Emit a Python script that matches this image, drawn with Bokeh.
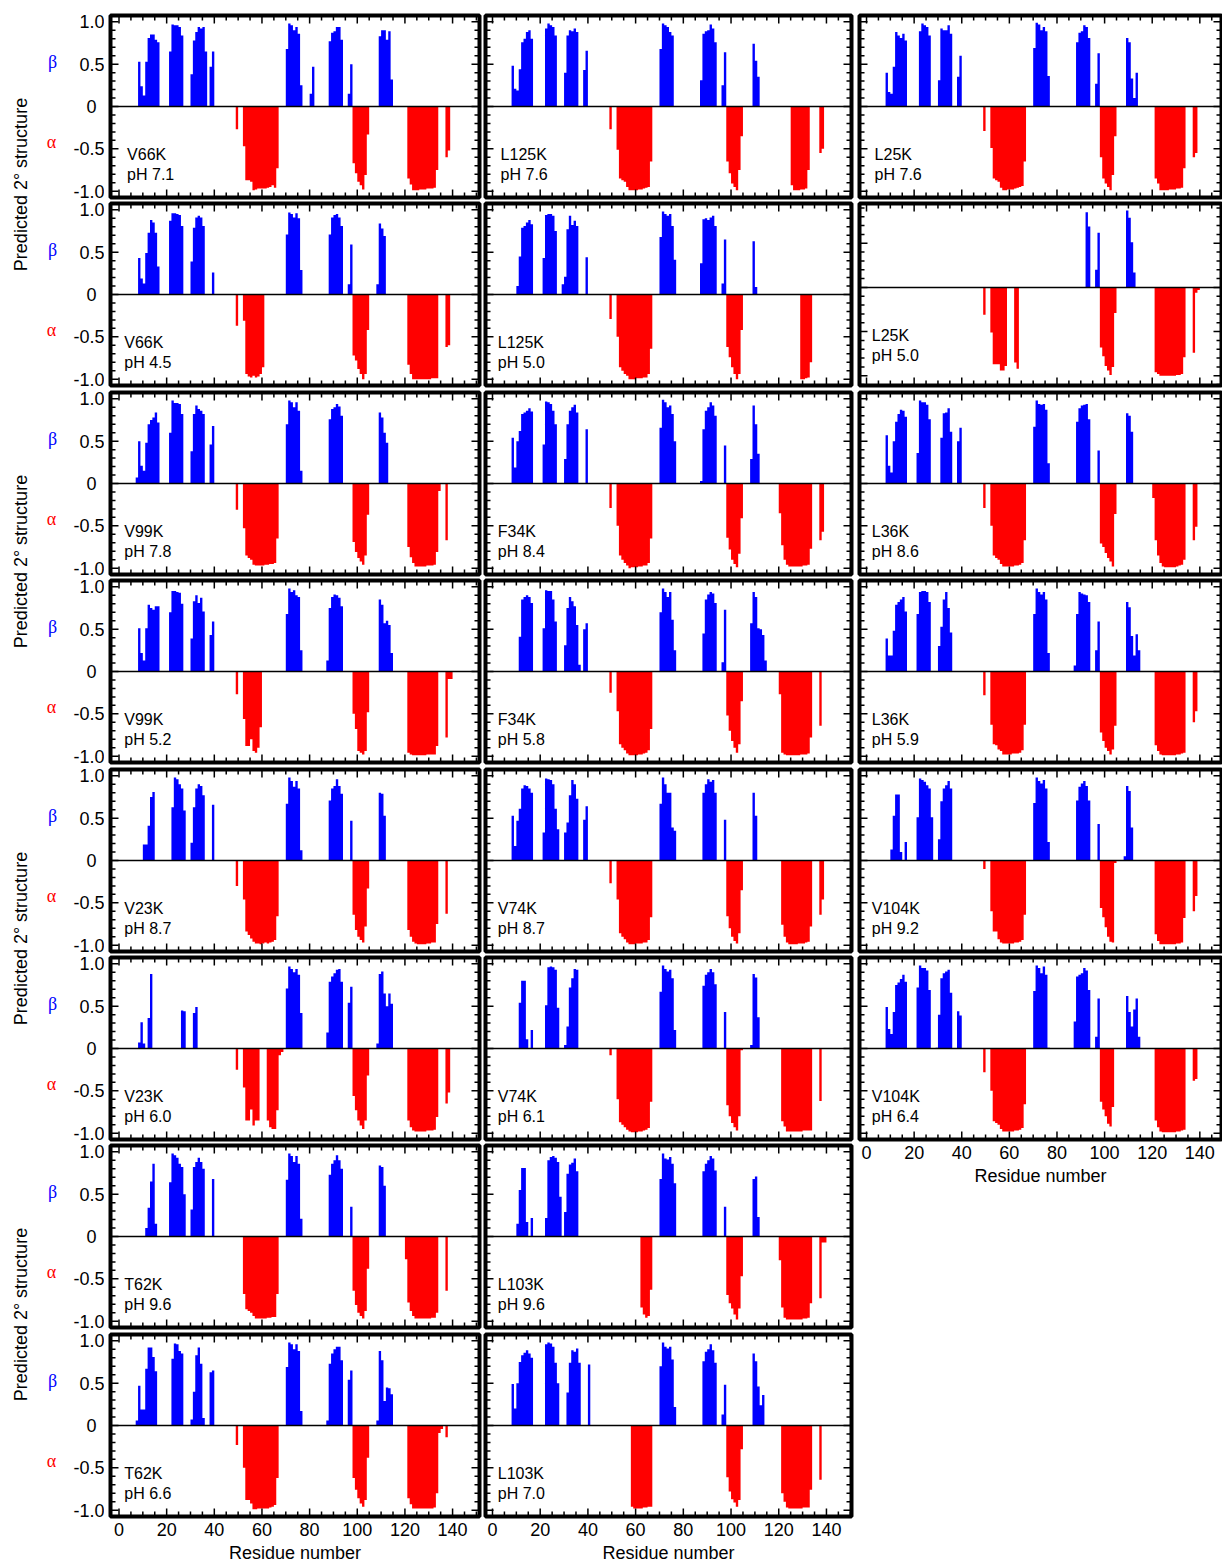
import numpy as np
from bokeh.plotting import figure
from bokeh.layouts import row, column
from bokeh.models import Range1d, FixedTicker, Span
from bokeh.core.properties import value
from bokeh.embed import file_html
from bokeh.resources import INLINE

# ---------------------------------------------------------------------------
# Predicted secondary structure per residue (beta > 0, alpha drawn below 0).
# Each entry: (first residue, [scores for consecutive residues]).
# ---------------------------------------------------------------------------
V66K_71_BETA = [(8, [0.53, 0.24, 0.13, 0.53, 0.81, 0.85, 0.85, 0.79, 0.76]), (21, [0.65, 0.97, 0.96, 0.96, 0.94, 0.84]),
                (30, [0.38, 0.78, 0.88, 0.94, 0.92, 0.94, 0.65]), (38, [0.47, 0.65]), (70, [0.68, 0.98, 0.96, 0.90, 0.94, 0.86, 0.25]),
                (80, [0.15, 0.47]), (88, [0.77, 0.87, 0.89, 0.94, 0.94, 0.79]), (96, [0.15, 0.50]), (109, [0.83, 0.90, 0.90, 0.79, 0.89, 0.32])]
V66K_71_ALPHA = [(49, [0.27]), (52, [0.47, 0.87, 0.87, 0.89, 0.99, 0.98, 0.97, 0.97, 0.97, 0.97, 0.96, 0.95, 0.93, 0.96, 0.73]),
                 (98, [0.67, 0.79, 0.89, 0.93, 0.98, 0.81, 0.33]), (121, [0.85, 0.92, 0.99, 0.99, 0.99, 0.98, 0.98, 0.98, 0.97, 0.97, 0.97, 0.96, 0.75]),
                 (137, [0.60, 0.52])]

V66K_45_BETA = [(8, [0.43, 0.19, 0.13, 0.49, 0.73, 0.88, 0.85, 0.73, 0.33]), (21, [0.87, 0.96, 0.96, 0.95, 0.94, 0.81]),
                (30, [0.39, 0.79, 0.91, 0.93, 0.91, 0.81]), (39, [0.26]), (70, [0.71, 0.97, 0.95, 0.91, 0.96, 0.90, 0.29]),
                (88, [0.71, 0.91, 0.94, 0.95, 0.91, 0.81]), (96, [0.12, 0.59]), (108, [0.12, 0.84, 0.78, 0.69])]
V66K_45_ALPHA = [(49, [0.37]), (52, [0.31, 0.94, 0.97, 0.98, 0.96, 0.98, 0.97, 0.94, 0.86]), (98, [0.72, 0.78, 0.88, 0.94, 1.0, 0.94, 0.42]),
                 (121, [0.83, 0.94, 1.0, 1.0, 1.0, 1.0, 1.0, 1.0, 1.0, 1.0, 0.99, 0.99, 0.99]), (137, [0.62, 0.60])]

V99K_78_BETA = [(7, [0.07, 0.50, 0.21, 0.15, 0.48, 0.70, 0.75, 0.78, 0.84, 0.72]), (21, [0.60, 0.98, 0.95, 0.95, 0.94, 0.82]),
                (30, [0.38, 0.82, 0.92, 0.88, 0.86, 0.82]), (38, [0.46, 0.68]), (70, [0.70, 0.98, 0.96, 0.90, 0.96, 0.86, 0.15]),
                (88, [0.76, 0.88, 0.90, 0.94, 0.91, 0.80]), (109, [0.84, 0.78, 0.60, 0.48])]
V99K_78_ALPHA = [(49, [0.31]), (52, [0.53, 0.85, 0.88, 0.90, 0.96, 0.97, 0.97, 0.97, 0.97, 0.96, 0.96, 0.95, 0.95, 0.94, 0.65]),
                 (98, [0.69, 0.81, 0.88, 0.92, 0.96, 0.85, 0.37]), (121, [0.75, 0.87, 0.94, 0.98, 0.98, 0.98, 0.98, 0.98, 0.97, 0.97, 0.97, 0.96, 0.81, 0.09]),
                 (137, [0.67])]

V99K_52_BETA = [(8, [0.51, 0.22, 0.13, 0.51, 0.79, 0.75, 0.73, 0.77, 0.77]), (21, [0.70, 0.95, 0.95, 0.94, 0.93, 0.80]),
                (30, [0.39, 0.83, 0.90, 0.81, 0.87, 0.71]), (38, [0.43, 0.59]), (70, [0.68, 0.98, 0.94, 0.96, 0.90, 0.88, 0.25]),
                (87, [0.13, 0.75, 0.88, 0.91, 0.90, 0.87, 0.77]), (109, [0.85, 0.79, 0.57, 0.60, 0.55, 0.22])]
V99K_52_ALPHA = [(49, [0.27]), (52, [0.56, 0.88, 0.88, 0.80, 0.94, 0.96, 0.90, 0.66]), (98, [0.50, 0.68, 0.94, 0.96, 0.98, 0.94, 0.48]),
                 (121, [0.96, 0.98, 0.99, 0.99, 0.99, 0.99, 0.99, 0.99, 0.98, 0.98, 0.98, 0.98, 0.88]), (137, [0.78, 0.09, 0.09])]

V23K_87_BETA = [(10, [0.19, 0.19, 0.41, 0.75, 0.81]), (22, [0.63, 0.98, 0.96, 0.90, 0.85, 0.59]), (30, [0.21, 0.63, 0.85, 0.90, 0.88, 0.77]),
                (39, [0.66]), (70, [0.67, 0.98, 0.94, 0.87, 0.94, 0.85, 0.12]), (88, [0.71, 0.85, 0.88, 0.96, 0.88, 0.79]), (97, [0.47]),
                (109, [0.80, 0.79, 0.53])]
V23K_87_ALPHA = [(49, [0.30]), (52, [0.46, 0.84, 0.88, 0.92, 0.96, 0.98, 0.98, 0.99, 0.98, 0.97, 0.98, 0.97, 0.96, 0.94, 0.66]),
                 (98, [0.64, 0.82, 0.90, 0.94, 0.97, 0.78, 0.33]), (121, [0.82, 0.90, 0.96, 0.98, 0.99, 0.99, 0.99, 0.99, 0.98, 0.98, 0.97, 0.97, 0.75]),
                 (137, [0.63])]

V23K_60_BETA = [(8, [0.07, 0.31, 0.06]), (12, [0.36, 0.88]), (26, [0.45, 0.44]), (31, [0.42, 0.49]),
                (70, [0.71, 0.97, 0.94, 0.90, 0.94, 0.87, 0.42]), (87, [0.19, 0.79, 0.85, 0.89, 0.93, 0.94, 0.79]), (96, [0.54, 0.73]),
                (108, [0.06, 0.88, 0.91, 0.65, 0.50, 0.65, 0.53])]
V23K_60_ALPHA = [(49, [0.25]), (52, [0.46, 0.85, 0.85, 0.72, 0.91, 0.85, 0.85]), (62, [0.85, 0.93, 0.95, 0.95, 0.73, 0.08, 0.04]),
                 (98, [0.56, 0.73, 0.85, 0.91, 0.95, 0.85, 0.32]), (121, [0.85, 0.93, 0.97, 0.98, 0.98, 0.98, 0.98, 0.98, 0.97, 0.97, 0.97, 0.96, 0.81]),
                 (137, [0.65, 0.52])]

T62K_96_BETA = [(11, [0.10, 0.34, 0.65, 0.86, 0.15]), (21, [0.64, 0.98, 0.96, 0.93, 0.86, 0.82, 0.50]), (30, [0.32, 0.82, 0.88, 0.93, 0.88, 0.80]),
                (39, [0.68]), (70, [0.67, 0.98, 0.95, 0.88, 0.95, 0.86, 0.21]), (88, [0.73, 0.86, 0.90, 0.96, 0.90, 0.80]), (97, [0.35]),
                (109, [0.84, 0.82, 0.60])]
T62K_96_ALPHA = [(52, [0.68, 0.86, 0.88, 0.90, 0.94, 0.97, 0.97, 0.97, 0.97, 0.97, 0.96, 0.96, 0.95, 0.95, 0.68]),
                 (98, [0.64, 0.81, 0.90, 0.94, 0.97, 0.88, 0.38]), (120, [0.27, 0.78, 0.88, 0.94, 0.97, 0.97, 0.97, 0.97, 0.97, 0.97, 0.97, 0.96, 0.96, 0.90]),
                 (137, [0.64])]

T62K_66_BETA = [(7, [0.06, 0.47, 0.19, 0.19, 0.67, 0.92, 0.92, 0.81, 0.64]), (22, [0.79, 0.97, 0.96, 0.88, 0.85]),
                (30, [0.07, 0.40, 0.83, 0.92, 0.73, 0.09]), (38, [0.63, 0.65]), (70, [0.69, 0.98, 0.96, 0.90, 0.96, 0.88, 0.17]),
                (87, [0.06, 0.73, 0.85, 0.90, 0.93, 0.93, 0.77]), (96, [0.54, 0.65]), (108, [0.06, 0.88, 0.77, 0.29, 0.45, 0.44, 0.37])]
T62K_66_ALPHA = [(49, [0.23]), (52, [0.50, 0.88, 0.88, 0.92, 0.99, 0.99, 0.98, 0.98, 0.98, 0.98, 0.98, 0.97, 0.96, 0.94, 0.62]),
                 (98, [0.62, 0.76, 0.86, 0.92, 0.96, 0.88, 0.38]),
                 (121, [0.86, 0.93, 0.98, 0.98, 0.98, 0.98, 0.98, 0.98, 0.98, 0.98, 0.98, 0.97, 0.80, 0.09, 0.04]), (137, [0.14])]

L125K_76_BETA = [(8, [0.48, 0.21, 0.19, 0.44, 0.76, 0.80, 0.88, 0.90, 0.80]), (22, [0.92, 0.98, 0.96, 0.94, 0.84]),
                 (30, [0.40, 0.84, 0.90, 0.89, 0.92, 0.88]), (38, [0.43, 0.66]), (70, [0.68, 0.98, 0.96, 0.94, 0.88, 0.84]),
                 (87, [0.31, 0.86, 0.89, 0.90, 0.97, 0.92, 0.76]), (96, [0.25, 0.64]), (109, [0.74, 0.54, 0.35])]
L125K_76_ALPHA = [(49, [0.27]), (52, [0.51, 0.85, 0.87, 0.89, 0.95, 0.99, 0.99, 0.99, 0.99, 0.98, 0.98, 0.97, 0.96, 0.95, 0.65]),
                  (98, [0.65, 0.79, 0.91, 0.95, 0.99, 0.75, 0.35]), (125, [0.93, 0.99, 0.99, 0.99, 0.98, 0.98, 0.97, 0.75]), (137, [0.55, 0.50])]

L125K_50_BETA = [(10, [0.10, 0.45, 0.79, 0.81, 0.85, 0.88, 0.83]), (21, [0.43, 0.94, 0.95, 0.95, 0.93, 0.75]),
                 (29, [0.12, 0.21, 0.77, 0.93, 0.82, 0.87, 0.81]), (39, [0.44]), (70, [0.68, 0.98, 0.95, 0.93, 0.95, 0.81, 0.41]),
                 (87, [0.37, 0.89, 0.90, 0.88, 0.91, 0.93, 0.81]), (96, [0.13, 0.65]), (109, [0.63, 0.09])]
L125K_50_ALPHA = [(49, [0.29]), (52, [0.50, 0.86, 0.90, 0.94, 0.96, 1.0, 1.0, 1.0, 0.99, 0.99, 0.99, 0.98, 0.98, 0.94, 0.64]),
                  (98, [0.62, 0.74, 0.86, 0.94, 1.0, 0.94, 0.42]), (129, [1.0, 1.0, 0.99, 0.98, 0.80])]

F34K_84_BETA = [(8, [0.54, 0.19, 0.50, 0.62, 0.82, 0.84, 0.86, 0.89, 0.85]), (21, [0.46, 0.97, 0.96, 0.94, 0.86, 0.70]),
                (30, [0.29, 0.70, 0.86, 0.90, 0.93, 0.84]), (39, [0.64]), (70, [0.66, 0.99, 0.96, 0.90, 0.92, 0.82, 0.50]),
                (87, [0.03, 0.64, 0.86, 0.90, 0.96, 0.92, 0.80]), (97, [0.45]), (108, [0.29, 0.92, 0.70, 0.35])]
F34K_84_ALPHA = [(49, [0.29]), (52, [0.50, 0.85, 0.90, 0.94, 0.97, 1.0, 0.99, 0.99, 0.99, 0.98, 0.98, 0.97, 0.97, 0.94, 0.65]),
                 (98, [0.64, 0.78, 0.90, 0.95, 0.99, 0.83, 0.41]),
                 (120, [0.35, 0.73, 0.90, 0.96, 0.98, 0.98, 0.98, 0.98, 0.98, 0.98, 0.97, 0.97, 0.96, 0.77]), (137, [0.67, 0.57])]

F34K_58_BETA = [(11, [0.41, 0.85, 0.88, 0.90, 0.88, 0.81]), (21, [0.51, 0.96, 0.95, 0.95, 0.85, 0.59]),
                (30, [0.31, 0.75, 0.88, 0.83, 0.77, 0.55, 0.08]), (38, [0.50, 0.57]), (70, [0.70, 0.98, 0.94, 0.88, 0.94, 0.61, 0.25]),
                (88, [0.45, 0.85, 0.91, 0.94, 0.92, 0.81]), (96, [0.11, 0.73]), (108, [0.57, 0.94, 0.88, 0.51, 0.50, 0.43, 0.13])]
F34K_58_ALPHA = [(49, [0.25]), (52, [0.47, 0.86, 0.90, 0.93, 0.97, 0.99, 0.99, 0.99, 0.99, 0.98, 0.98, 0.97, 0.96, 0.93, 0.68]),
                 (98, [0.52, 0.70, 0.82, 0.90, 0.96, 0.86, 0.35]),
                 (120, [0.27, 0.96, 0.98, 0.99, 0.99, 0.99, 0.99, 0.99, 0.99, 0.98, 0.98, 0.98, 0.97, 0.78]), (137, [0.64])]

V74K_87_BETA = [(8, [0.53, 0.17, 0.47, 0.61, 0.85, 0.89, 0.88, 0.85, 0.80]), (21, [0.33, 0.97, 0.96, 0.95, 0.90, 0.61, 0.37]),
                (30, [0.33, 0.45, 0.77, 0.95, 0.90, 0.73]), (38, [0.48, 0.64]), (70, [0.67, 0.98, 0.90, 0.80, 0.80, 0.39, 0.35]),
                (88, [0.80, 0.90, 0.96, 0.93, 0.95, 0.80]), (97, [0.48]), (109, [0.80, 0.53])]
V74K_87_ALPHA = [(49, [0.27]), (52, [0.46, 0.86, 0.90, 0.93, 0.97, 0.99, 0.99, 0.99, 0.98, 0.98, 0.98, 0.97, 0.97, 0.94, 0.67]),
                 (98, [0.66, 0.80, 0.90, 0.95, 0.98, 0.86, 0.35]), (121, [0.76, 0.90, 0.97, 0.99, 0.99, 0.99, 0.99, 0.98, 0.98, 0.98, 0.97, 0.96, 0.78]),
                 (137, [0.64, 0.46])]

V74K_61_BETA = [(11, [0.54, 0.80, 0.80, 0.11]), (16, [0.22]), (22, [0.51, 0.96, 0.97, 0.96, 0.93, 0.48]),
                (30, [0.04, 0.26, 0.72, 0.83, 0.94, 0.93]), (70, [0.67, 0.98, 0.94, 0.91, 0.93, 0.83, 0.22]),
                (88, [0.74, 0.87, 0.90, 0.94, 0.90, 0.76]), (97, [0.43]), (108, [0.04, 0.88, 0.84, 0.37])]
V74K_61_ALPHA = [(49, [0.08]), (52, [0.60, 0.87, 0.90, 0.93, 0.96, 0.98, 0.99, 0.99, 0.99, 0.98, 0.98, 0.97, 0.96, 0.94, 0.63]),
                 (98, [0.67, 0.80, 0.88, 0.93, 0.97, 0.80, 0.02]), (121, [0.86, 0.92, 0.98, 0.98, 0.98, 0.98, 0.98, 0.98, 0.98, 0.97, 0.97, 0.97, 0.97]),
                 (137, [0.62])]

L103K_96_BETA = [(10, [0.15, 0.55, 0.81, 0.81, 0.17]), (16, [0.22]), (22, [0.22, 0.90, 0.94, 0.95, 0.93, 0.88, 0.47]),
                 (30, [0.29, 0.74, 0.85, 0.87, 0.92, 0.77]), (70, [0.68, 0.98, 0.92, 0.91, 0.94, 0.86, 0.63]),
                 (88, [0.77, 0.86, 0.90, 0.95, 0.92, 0.78]), (97, [0.35]), (109, [0.68, 0.71, 0.23])]
L103K_96_ALPHA = [(62, [0.84, 0.92, 0.96, 0.94, 0.63]), (98, [0.69, 0.79, 0.85, 0.92, 0.98, 0.85, 0.47]),
                  (120, [0.28, 0.84, 0.96, 0.98, 0.98, 0.98, 0.98, 0.98, 0.98, 0.98, 0.97, 0.97, 0.96, 0.79]), (137, [0.73, 0.07, 0.07])]

L103K_70_BETA = [(8, [0.49, 0.20, 0.50, 0.75, 0.83, 0.86, 0.89, 0.85, 0.80]), (22, [0.96, 0.98, 0.97, 0.93, 0.74, 0.50]),
                 (31, [0.39, 0.74, 0.89, 0.87, 0.91, 0.74]), (40, [0.72]), (70, [0.70, 0.98, 0.93, 0.91, 0.93, 0.78, 0.22]),
                 (88, [0.76, 0.87, 0.90, 0.96, 0.89, 0.74]), (96, [0.13, 0.48]), (109, [0.85, 0.76, 0.46, 0.24, 0.36])]
L103K_70_ALPHA = [(58, [0.96, 0.98, 0.98, 0.98, 0.98, 0.97, 0.97, 0.96, 0.96]), (98, [0.61, 0.78, 0.87, 0.91, 0.96, 0.88, 0.28]),
                  (121, [0.80, 0.90, 0.97, 0.98, 0.98, 0.98, 0.98, 0.98, 0.98, 0.97, 0.97, 0.97, 0.76]), (137, [0.64])]

L25K_76_BETA = [(8, [0.40, 0.17, 0.15, 0.47, 0.88, 0.84, 0.81, 0.86, 0.78]), (22, [0.89, 0.98, 0.96, 0.94, 0.84]),
                (30, [0.31, 0.92, 0.90, 0.90, 0.96, 0.86]), (38, [0.35, 0.60]), (70, [0.69, 0.99, 0.97, 0.90, 0.94, 0.89, 0.36]),
                (88, [0.76, 0.87, 0.89, 0.96, 0.94, 0.81]), (96, [0.27, 0.63]), (109, [0.81, 0.76, 0.33, 0.10, 0.40])]
L25K_76_ALPHA = [(49, [0.29]), (52, [0.49, 0.85, 0.87, 0.89, 0.96, 0.99, 0.99, 0.98, 0.98, 0.98, 0.97, 0.96, 0.95, 0.94, 0.65]),
                 (98, [0.60, 0.85, 0.91, 0.95, 0.99, 0.81, 0.35]), (121, [0.85, 0.91, 0.99, 0.99, 0.99, 0.99, 0.98, 0.98, 0.98, 0.97, 0.97, 0.96, 0.73]),
                 (137, [0.60, 0.55])]

L25K_50_BETA = [(92, [0.85, 0.69]), (96, [0.20, 0.62]), (109, [0.87, 0.79, 0.51, 0.17])]
L25K_50_ALPHA = [(49, [0.31]), (52, [0.51, 0.87, 0.87, 0.87, 0.94, 0.94, 0.89]), (62, [0.85, 0.92]),
                 (98, [0.68, 0.78, 0.89, 0.94, 0.99, 0.90, 0.29]), (121, [0.96, 0.98, 1.0, 1.0, 1.0, 1.0, 1.0, 1.0, 1.0, 0.99, 0.99, 0.98, 0.79]),
                 (137, [0.74, 0.06, 0.03])]

L36K_86_BETA = [(8, [0.57, 0.21, 0.13, 0.50, 0.73, 0.82, 0.87, 0.86, 0.79]), (21, [0.36, 0.98, 0.96, 0.96, 0.93, 0.76]),
                (31, [0.54, 0.83, 0.84, 0.89, 0.61]), (38, [0.50, 0.66]), (70, [0.67, 0.98, 0.94, 0.93, 0.94, 0.87, 0.24]),
                (88, [0.73, 0.89, 0.92, 0.93, 0.94, 0.76]), (97, [0.39]), (109, [0.83, 0.80, 0.61])]
L36K_86_ALPHA = [(49, [0.29]), (52, [0.50, 0.85, 0.88, 0.90, 0.95, 0.98, 0.98, 0.98, 0.98, 0.98, 0.97, 0.97, 0.96, 0.94, 0.67]),
                 (98, [0.71, 0.75, 0.82, 0.88, 0.92, 0.98, 0.36]),
                 (120, [0.17, 0.67, 0.85, 0.94, 0.98, 0.99, 0.99, 0.99, 0.99, 0.99, 0.98, 0.97, 0.96, 0.90]), (137, [0.67, 0.51])]

L36K_59_BETA = [(8, [0.39, 0.19, 0.19, 0.48, 0.79, 0.82, 0.85, 0.88, 0.71]), (21, [0.68, 0.94, 0.95, 0.95, 0.94, 0.82]),
                (30, [0.30, 0.53, 0.85, 0.94, 0.75, 0.46]), (70, [0.68, 0.98, 0.94, 0.91, 0.94, 0.85, 0.22]),
                (87, [0.07, 0.68, 0.94, 0.92, 0.91, 0.90, 0.82]), (96, [0.25, 0.59]), (109, [0.82, 0.76, 0.42, 0.19, 0.44, 0.25])]
L36K_59_ALPHA = [(49, [0.28]), (52, [0.63, 0.86, 0.87, 0.92, 0.94, 0.98, 0.98, 0.98, 0.98, 0.97, 0.97, 0.97, 0.96, 0.93, 0.63]),
                 (98, [0.72, 0.82, 0.90, 0.94, 0.98, 0.92, 0.64]), (121, [0.87, 0.94, 0.98, 0.99, 0.99, 0.99, 0.99, 0.99, 0.99, 0.98, 0.98, 0.97, 0.96]),
                 (137, [0.60, 0.47])]

V104K_92_BETA = [(10, [0.13, 0.53, 0.78, 0.78, 0.10]), (16, [0.22]), (21, [0.51, 0.97, 0.95, 0.93, 0.89, 0.85, 0.51]),
                 (30, [0.25, 0.70, 0.85, 0.89, 0.94, 0.85]), (70, [0.68, 0.98, 0.94, 0.91, 0.95, 0.85, 0.22]),
                 (88, [0.71, 0.87, 0.91, 0.94, 0.88, 0.71]), (97, [0.43]), (108, [0.05, 0.88, 0.82, 0.39])]
V104K_92_ALPHA = [(49, [0.10]), (52, [0.60, 0.84, 0.84, 0.93, 0.97, 0.98, 0.98, 0.98, 0.98, 0.98, 0.97, 0.97, 0.96, 0.94, 0.64]),
                  (98, [0.56, 0.67, 0.79, 0.90, 0.96, 0.97, 0.03]), (121, [0.87, 0.95, 0.99, 0.99, 0.99, 0.99, 0.99, 0.99, 0.99, 0.98, 0.98, 0.97, 0.68]),
                  (137, [0.60, 0.42])]

V104K_64_BETA = [(8, [0.49, 0.23, 0.17, 0.43, 0.75, 0.78, 0.82, 0.87, 0.79]), (21, [0.72, 0.98, 0.95, 0.95, 0.92, 0.69]),
                 (29, [0.01, 0.40, 0.83, 0.89, 0.91, 0.93, 0.66]), (38, [0.44, 0.39]), (70, [0.68, 0.98, 0.95, 0.89, 0.97, 0.87, 0.01]),
                 (87, [0.32, 0.85, 0.87, 0.89, 0.95, 0.92, 0.69]), (96, [0.14, 0.59]), (109, [0.62, 0.43, 0.26, 0.46, 0.59, 0.14])]
V104K_64_ALPHA = [(49, [0.28]), (52, [0.50, 0.86, 0.88, 0.90, 0.95, 0.98, 0.98, 0.98, 0.98, 0.98, 0.97, 0.97, 0.96, 0.94, 0.66]),
                  (98, [0.63, 0.72, 0.80, 0.89, 0.92, 0.69]), (121, [0.85, 0.93, 0.98, 0.99, 0.99, 0.99, 0.99, 0.99, 0.99, 0.98, 0.98, 0.97, 0.96]),
                  (137, [0.38, 0.36])]

# Panels, column by column: (mutant, condition, beta, alpha)
COLUMN_1 = [("V66K", "pH 7.1", V66K_71_BETA, V66K_71_ALPHA), ("V66K", "pH 4.5", V66K_45_BETA, V66K_45_ALPHA),
            ("V99K", "pH 7.8", V99K_78_BETA, V99K_78_ALPHA), ("V99K", "pH 5.2", V99K_52_BETA, V99K_52_ALPHA),
            ("V23K", "pH 8.7", V23K_87_BETA, V23K_87_ALPHA), ("V23K", "pH 6.0", V23K_60_BETA, V23K_60_ALPHA),
            ("T62K", "pH 9.6", T62K_96_BETA, T62K_96_ALPHA), ("T62K", "pH 6.6", T62K_66_BETA, T62K_66_ALPHA)]
COLUMN_2 = [("L125K", "pH 7.6", L125K_76_BETA, L125K_76_ALPHA), ("L125K", "pH 5.0", L125K_50_BETA, L125K_50_ALPHA),
            ("F34K", "pH 8.4", F34K_84_BETA, F34K_84_ALPHA), ("F34K", "pH 5.8", F34K_58_BETA, F34K_58_ALPHA),
            ("V74K", "pH 8.7", V74K_87_BETA, V74K_87_ALPHA), ("V74K", "pH 6.1", V74K_61_BETA, V74K_61_ALPHA),
            ("L103K", "pH 9.6", L103K_96_BETA, L103K_96_ALPHA), ("L103K", "pH 7.0", L103K_70_BETA, L103K_70_ALPHA)]
COLUMN_3 = [("L25K", "pH 7.6", L25K_76_BETA, L25K_76_ALPHA), ("L25K", "pH 5.0", L25K_50_BETA, L25K_50_ALPHA),
            ("L36K", "pH 8.6", L36K_86_BETA, L36K_86_ALPHA), ("L36K", "pH 5.9", L36K_59_BETA, L36K_59_ALPHA),
            ("V104K", "pH 9.2", V104K_92_BETA, V104K_92_ALPHA), ("V104K", "pH 6.4", V104K_64_BETA, V104K_64_ALPHA)]

X_TICKS = [0, 20, 40, 60, 80, 100, 120, 140]
X_MINOR = [v for v in range(0, 151, 5) if v % 20]
Y_TICKS = [-1.0, -0.5, 0.0, 0.5, 1.0]
Y_TICK_LABELS = ["-1.0", "-0.5", "0", "0.5", "1.0"]
Y_MINOR = [round(k * 0.1, 1) for k in range(-11, 12) if k % 5]
X_TITLE = "Residue number"
Y_TITLE = "Predicted 2\u00b0 structure"

# ---------------------------------------------------------------------------
# Layout constants (pixels)
# ---------------------------------------------------------------------------
SANS = "Liberation Sans"
SERIF = "Liberation Serif"
BLUE, RED = "#0000ff", "#ff0000"
STRIP_W = 104
FRAME_H = 182
PITCH = 188.4
TOP0 = 15
BOTTOM_AXIS = 51
Y_SPAN = (-1.075, 1.075)
Y_SPAN_SPECIAL = {("L25K", "pH 5.0"): (-1.11, 0.95)}
COLS = [
    dict(panels=COLUMN_1, frame_w=369, left=6, right=3, xr=(-3.57, 151.3)),
    dict(panels=COLUMN_2, frame_w=366, left=3, right=4, xr=(-2.93, 150.5)),
    dict(panels=COLUMN_3, frame_w=362, left=4, right=1, xr=(-2.95, 149.1)),
]
row_tops = [TOP0 + int(round(PITCH * i)) for i in range(8)]


def step_outline(segments, sign):
    """Closed step polygons (one per run of residues), each residue a unit-wide column."""
    xs_all, ys_all = [], []
    for start, vals in segments:
        xs, ys = [start], [0.0]
        for k, v in enumerate(vals):
            xs += [start + k, start + k + 1]
            ys += [sign * v, sign * v]
        xs.append(start + len(vals))
        ys.append(0.0)
        xs_all.append(xs)
        ys_all.append(ys)
    return xs_all, ys_all


def add_ticks(p, xr, yr, fw, fh):
    sx = fw / (xr[1] - xr[0])
    sy = fh / (yr[1] - yr[0])
    for ticks, length in ((X_TICKS, 8), (X_MINOR, 5)):
        t = [v for v in ticks if xr[0] < v < xr[1]]
        d = length / sy
        n = len(t)
        p.segment(x0=t, y0=[yr[0]] * n, x1=t, y1=[yr[0] + d] * n, line_color="black", line_width=1.5)
        p.segment(x0=t, y0=[yr[1]] * n, x1=t, y1=[yr[1] - d] * n, line_color="black", line_width=1.5)
    for ticks, length in ((Y_TICKS, 8), (Y_MINOR, 5)):
        t = [v for v in ticks if yr[0] < v < yr[1]]
        d = length / sx
        n = len(t)
        p.segment(x0=[xr[0]] * n, y0=t, x1=[xr[0] + d] * n, y1=t, line_color="black", line_width=1.5)
        p.segment(x0=[xr[1]] * n, y0=t, x1=[xr[1] - d] * n, y1=t, line_color="black", line_width=1.5)


def make_panel(ci, ri, spec, n_rows):
    cfg = COLS[ci]
    name, cond, beta, alpha = spec
    yr = Y_SPAN_SPECIAL.get((name, cond), Y_SPAN)
    xr = cfg["xr"]
    last = ri == n_rows - 1
    top_border = row_tops[0] if ri == 0 else row_tops[ri] - (row_tops[ri - 1] + FRAME_H + 3)
    p = figure(frame_width=cfg["frame_w"], frame_height=FRAME_H,
               x_range=Range1d(*xr), y_range=Range1d(*yr),
               output_backend="svg", toolbar_location=None,
               x_axis_location="below" if last else None, y_axis_location=None,
               min_border_left=cfg["left"], min_border_right=cfg["right"],
               min_border_top=top_border, min_border_bottom=BOTTOM_AXIS if last else 3)
    p.outline_line_color = "black"
    p.outline_line_width = 4
    p.xgrid.grid_line_color = None
    p.ygrid.grid_line_color = None

    bxs, bys = step_outline(beta, 1.0)
    axs, ays = step_outline(alpha, -1.0)
    p.patches(bxs, bys, fill_color=BLUE, line_color=None)
    p.patches(axs, ays, fill_color=RED, line_color=None)
    p.add_layout(Span(location=0, dimension="width", line_color="black", line_width=1.6))
    add_ticks(p, xr, yr, cfg["frame_w"], FRAME_H)

    unit = FRAME_H / (yr[1] - yr[0])
    lx = 3.4 if ri == 0 else 2.2
    p.text(x=[lx, lx], y=[-48 / unit, -68 / unit], text=[name, cond],
           text_font=value(SANS), text_font_size="16px", text_baseline="middle",
           text_align="left", text_color="black")

    if last:
        bx_ = p.xaxis[0]
        bx_.ticker = FixedTicker(ticks=X_TICKS, minor_ticks=[])
        bx_.axis_line_color = None
        bx_.major_tick_in = 0
        bx_.major_tick_out = 0
        bx_.minor_tick_in = 0
        bx_.minor_tick_out = 0
        bx_.major_label_standoff = 6
        bx_.major_label_text_font = SANS
        bx_.major_label_text_font_size = "18px"
        bx_.major_label_text_color = "black"
        bx_.axis_label = X_TITLE
        bx_.axis_label_text_font = SANS
        bx_.axis_label_text_font_size = "18px"
        bx_.axis_label_text_font_style = "normal"
        bx_.axis_label_text_color = "black"
        bx_.axis_label_standoff = 4
    return p


columns = []
for ci, cfg in enumerate(COLS):
    figs = [make_panel(ci, ri, spec, len(cfg["panels"])) for ri, spec in enumerate(cfg["panels"])]
    columns.append(column(*figs, spacing=0))

# Left strip: shared y title, beta / alpha markers and the y tick labels of every row
STRIP_H = row_tops[7] + FRAME_H + BOTTOM_AXIS
strip = figure(width=STRIP_W, height=STRIP_H, x_range=Range1d(0, STRIP_W), y_range=Range1d(STRIP_H, 0),
               output_backend="svg", toolbar_location=None, x_axis_location=None, y_axis_location=None,
               min_border=0, outline_line_color=None)
strip.xgrid.grid_line_color = None
strip.ygrid.grid_line_color = None
unit0 = FRAME_H / (Y_SPAN[1] - Y_SPAN[0])
zeros = [t + Y_SPAN[1] * unit0 for t in row_tops]

strip.text(x=[52] * 8, y=[z - 0.52 * unit0 for z in zeros], text=["\u03b2"] * 8,
           text_font=value(SERIF), text_font_size="18px", text_color=BLUE,
           text_align="center", text_baseline="middle")
strip.text(x=[51] * 8, y=[z + 0.42 * unit0 for z in zeros], text=["\u03b1"] * 8,
           text_font=value(SERIF), text_font_size="18px", text_color=RED,
           text_align="center", text_baseline="middle")
strip.text(x=[20] * 4, y=[zeros[k] + 78 for k in (0, 2, 4, 6)], text=[Y_TITLE] * 4,
           angle=np.pi / 2, text_font=value(SANS), text_font_size="18px", text_color="black",
           text_align="center", text_baseline="middle")

# y tick labels: right-aligned, except the lone "0" which sits centred under the others
lab_x, lab_y, lab_t, lab_a = [], [], [], []
for z in zeros:
    for v, s in zip(Y_TICKS, Y_TICK_LABELS):
        lab_y.append(z - v * unit0)
        lab_t.append(s)
        if s == "0":
            lab_x.append(91.0)
            lab_a.append("center")
        else:
            lab_x.append(104.0)
            lab_a.append("right")
strip.text(x=lab_x, y=lab_y, text=lab_t, text_align=lab_a, text_baseline="middle",
           text_font=value(SANS), text_font_size="18px", text_color="black")

layout = row(strip, *columns, spacing=0)

with open("out.html", "w") as f:
    f.write(file_html(layout, INLINE))
